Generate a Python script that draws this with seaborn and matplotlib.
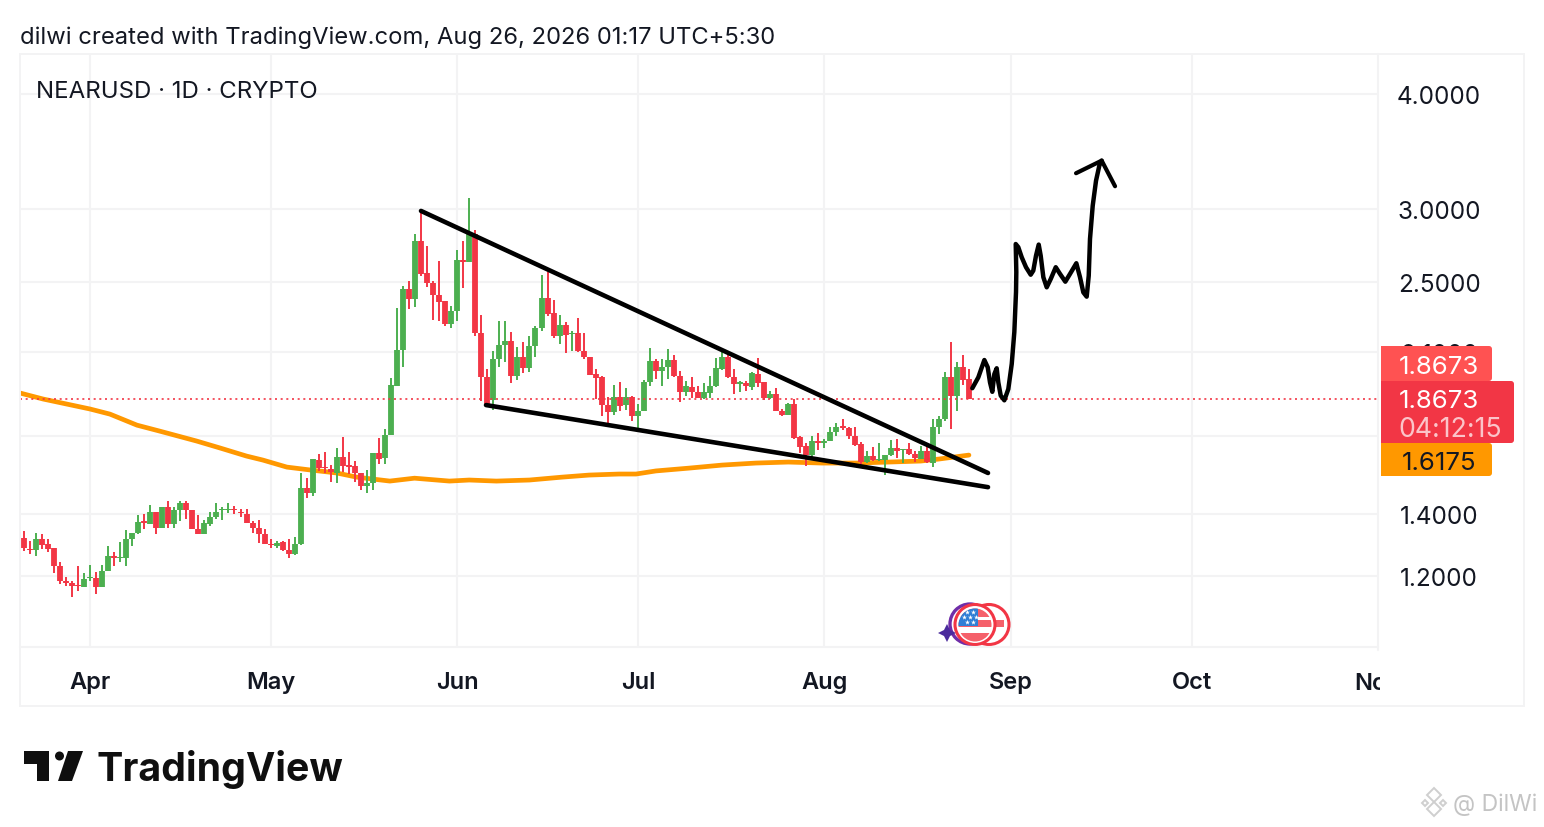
import numpy as np
import pandas as pd
import seaborn as sns
import matplotlib.pyplot as plt
from matplotlib.patches import Circle, FancyBboxPatch, Polygon, Rectangle
from matplotlib.transforms import Bbox

# --- data (days counted from Apr 1) ---
first_day = -12
open_prices = [
    1.340, 1.319, 1.284, 1.280, 1.316, 1.298, 1.285, 1.229, 1.184, 1.178,
    1.172, 1.167, 1.192, 1.194, 1.165, 1.214, 1.260, 1.254, 1.255, 1.314,
    1.336, 1.375, 1.365, 1.407, 1.351, 1.425, 1.365, 1.415, 1.438, 1.413,
    1.348, 1.331, 1.367, 1.390, 1.413, 1.415, 1.419, 1.406, 1.399, 1.370,
    1.352, 1.331, 1.300, 1.293, 1.305, 1.280, 1.266, 1.299, 1.495, 1.475,
    1.603, 1.576, 1.568, 1.550, 1.615, 1.581, 1.578, 1.550, 1.502, 1.514,
    1.632, 1.609, 1.707, 1.930, 2.110, 2.457, 2.396, 2.772, 2.557, 2.494,
    2.422, 2.382, 2.251, 2.323, 2.643, 2.626, 2.819, 2.200, 1.973, 1.863,
    2.062, 2.136, 2.159, 1.975, 2.071, 2.015, 2.132, 2.227, 2.400, 2.312,
    2.186, 2.245, 2.197, 2.200, 2.103, 2.075, 1.987, 1.970, 1.838, 1.805,
    1.874, 1.838, 1.874, 1.787, 1.813, 1.946, 2.050, 2.003, 2.023, 2.056,
    1.978, 1.897, 1.925, 1.899, 1.872, 1.894, 1.928, 2.011, 2.071, 1.970,
    1.935, 1.941, 1.921, 1.988, 1.946, 1.869, 1.890, 1.813, 1.795, 1.843,
    1.696, 1.660, 1.623, 1.679, 1.671, 1.679, 1.720, 1.743, 1.735, 1.703,
    1.668, 1.596, 1.617, 1.603, 1.603, 1.623, 1.650, 1.642, 1.645, 1.627,
    1.607, 1.640, 1.590, 1.738, 1.773, 1.970, 1.882, 2.023, 1.960,
]
high_prices = [
    1.350, 1.342, 1.309, 1.336, 1.333, 1.314, 1.287, 1.243, 1.196, 1.184,
    1.229, 1.207, 1.233, 1.211, 1.232, 1.293, 1.273, 1.306, 1.345, 1.336,
    1.396, 1.399, 1.431, 1.407, 1.425, 1.445, 1.425, 1.447, 1.447, 1.413,
    1.396, 1.380, 1.407, 1.438, 1.423, 1.438, 1.427, 1.419, 1.419, 1.376,
    1.379, 1.348, 1.314, 1.310, 1.309, 1.316, 1.323, 1.550, 1.532, 1.608,
    1.625, 1.636, 1.581, 1.653, 1.699, 1.636, 1.598, 1.550, 1.563, 1.632,
    1.691, 1.732, 1.965, 2.341, 2.473, 2.508, 2.818, 2.985, 2.738, 2.508,
    2.633, 2.382, 2.356, 2.708, 2.772, 3.085, 2.850, 2.302, 2.012, 2.106,
    2.269, 2.266, 2.208, 2.124, 2.154, 2.186, 2.238, 2.546, 2.561, 2.390,
    2.304, 2.260, 2.214, 2.283, 2.200, 2.075, 2.012, 1.978, 1.875, 1.933,
    1.946, 1.916, 1.882, 1.843, 1.958, 2.118, 2.062, 2.062, 2.112, 2.083,
    2.003, 1.954, 1.970, 1.926, 1.943, 1.978, 2.068, 2.115, 2.083, 2.011,
    1.954, 1.951, 1.995, 2.068, 1.946, 1.905, 1.916, 1.820, 1.848, 1.864,
    1.703, 1.671, 1.700, 1.713, 1.689, 1.739, 1.758, 1.773, 1.742, 1.739,
    1.675, 1.640, 1.654, 1.671, 1.624, 1.683, 1.689, 1.647, 1.672, 1.637,
    1.660, 1.672, 1.777, 1.787, 1.995, 2.150, 2.045, 2.083, 2.013,
]
low_prices = [
    1.300, 1.275, 1.266, 1.261, 1.282, 1.273, 1.209, 1.175, 1.170, 1.138,
    1.155, 1.167, 1.184, 1.147, 1.165, 1.214, 1.229, 1.243, 1.229, 1.293,
    1.333, 1.350, 1.365, 1.331, 1.351, 1.353, 1.351, 1.374, 1.382, 1.348,
    1.331, 1.331, 1.359, 1.382, 1.380, 1.403, 1.399, 1.391, 1.368, 1.336,
    1.301, 1.298, 1.285, 1.285, 1.276, 1.253, 1.264, 1.296, 1.458, 1.465,
    1.559, 1.550, 1.518, 1.512, 1.555, 1.546, 1.517, 1.487, 1.477, 1.487,
    1.586, 1.586, 1.706, 1.930, 2.020, 2.337, 2.347, 2.536, 2.467, 2.275,
    2.269, 2.237, 2.230, 2.269, 2.463, 2.626, 2.186, 1.856, 1.828, 1.817,
    2.020, 2.045, 1.943, 1.957, 1.990, 1.997, 2.071, 2.214, 2.298, 2.174,
    2.143, 2.095, 2.106, 2.097, 2.062, 1.983, 1.866, 1.787, 1.756, 1.793,
    1.812, 1.815, 1.768, 1.731, 1.813, 1.930, 1.962, 1.930, 1.962, 1.970,
    1.851, 1.879, 1.872, 1.870, 1.867, 1.872, 1.925, 2.006, 1.967, 1.890,
    1.901, 1.905, 1.908, 1.921, 1.860, 1.865, 1.809, 1.787, 1.793, 1.689,
    1.629, 1.577, 1.610, 1.644, 1.651, 1.679, 1.700, 1.727, 1.689, 1.660,
    1.587, 1.590, 1.600, 1.600, 1.545, 1.620, 1.610, 1.590, 1.623, 1.593,
    1.607, 1.590, 1.573, 1.710, 1.768, 1.731, 1.812, 1.932, 1.867,
]
close_prices = [
    1.320, 1.285, 1.280, 1.314, 1.296, 1.282, 1.229, 1.184, 1.177, 1.168,
    1.168, 1.191, 1.196, 1.167, 1.214, 1.260, 1.254, 1.258, 1.314, 1.336,
    1.373, 1.370, 1.407, 1.353, 1.425, 1.365, 1.415, 1.438, 1.413, 1.348,
    1.331, 1.368, 1.391, 1.407, 1.417, 1.417, 1.413, 1.403, 1.369, 1.352,
    1.331, 1.299, 1.295, 1.303, 1.280, 1.268, 1.300, 1.495, 1.475, 1.605,
    1.572, 1.572, 1.553, 1.615, 1.579, 1.575, 1.550, 1.502, 1.512, 1.632,
    1.605, 1.707, 1.933, 2.110, 2.457, 2.396, 2.772, 2.551, 2.492, 2.420,
    2.380, 2.251, 2.323, 2.643, 2.626, 2.819, 2.200, 1.970, 1.836, 2.062,
    2.136, 2.159, 1.975, 2.071, 2.015, 2.132, 2.227, 2.400, 2.308, 2.186,
    2.245, 2.190, 2.203, 2.103, 2.075, 1.983, 1.967, 1.838, 1.805, 1.874,
    1.836, 1.874, 1.787, 1.813, 1.948, 2.050, 2.003, 2.023, 2.056, 1.978,
    1.897, 1.926, 1.897, 1.872, 1.897, 1.930, 2.018, 2.071, 1.970, 1.935,
    1.946, 1.930, 1.990, 1.943, 1.869, 1.890, 1.813, 1.795, 1.843, 1.692,
    1.657, 1.623, 1.679, 1.672, 1.679, 1.720, 1.742, 1.735, 1.703, 1.664,
    1.596, 1.617, 1.604, 1.607, 1.624, 1.650, 1.640, 1.647, 1.627, 1.610,
    1.640, 1.593, 1.738, 1.773, 1.970, 1.882, 2.023, 1.957, 1.867,
]

ma_days = [-11.6, -7.8, 0, 3.3, 7.8, 11.6, 17.7, 21.6, 26, 28.7, 32.7, 36.5, 41,
           44.3, 49.8, 53.9, 59.7, 63, 67.5, 73, 78.4, 82.9, 87.9, 90.7, 94, 99.5,
           105, 110.6, 116, 121.6, 127.2, 132.7, 138, 141, 146]
ma_prices = [1.894, 1.866, 1.820, 1.797, 1.748, 1.722, 1.680, 1.651, 1.618, 1.602,
             1.574, 1.563, 1.551, 1.535, 1.520, 1.531, 1.520, 1.524, 1.520, 1.524,
             1.535, 1.543, 1.547, 1.547, 1.559, 1.570, 1.582, 1.590, 1.594, 1.590,
             1.590, 1.594, 1.598, 1.606, 1.622]

upper_days = [54.98, 149.17]
upper_prices = [2.986, 1.551]
lower_days = [65.78, 149.17]
lower_prices = [1.838, 1.497]

sketch_days = [146.56, 147.56, 148.56, 149.12, 149.50, 149.88, 150.22, 150.61, 150.88,
               151.28, 151.88, 152.54, 153.11, 153.54, 153.77, 153.82, 153.87, 153.77,
               154.20, 154.77, 155.48, 156.26, 156.69, 157.14, 157.59, 157.92, 158.36,
               158.92, 159.59, 160.42, 161.13, 162.01, 162.79, 163.84, 164.45, 165.00,
               165.56, 165.90, 166.11, 166.56, 167.11, 167.66, 168.05]
sketch_prices = [1.917, 1.970, 2.057, 2.020, 1.945, 1.900, 1.986, 2.015, 1.945,
                 1.882, 1.860, 1.913, 2.037, 2.206, 2.396, 2.438, 2.563, 2.749,
                 2.727, 2.659, 2.594, 2.546, 2.572, 2.670, 2.745, 2.670, 2.530,
                 2.467, 2.519, 2.594, 2.551, 2.502, 2.551, 2.620, 2.530, 2.436,
                 2.410, 2.540, 2.784, 3.025, 3.220, 3.344, 3.386]
arrow_days = [163.79, 168.05, 170.27]
arrow_prices = [3.281, 3.386, 3.176]

last_price = 1.8673
ma_last = 1.6175

month_days = [0, 30, 61, 91, 122, 153, 183]
month_labels = ['Apr', 'May', 'Jun', 'Jul', 'Aug', 'Sep', 'Oct']
price_ticks = [1.2, 1.4, 1.7, 2.1, 2.5, 3.0, 4.0]

GREEN = '#4caf50'
RED = '#f23645'
ORANGE = '#ff9800'
GRID = '#f3f3f4'
INK = '#131722'

sns.set_theme(style='white')
plt.rcParams['font.family'] = ['Inter', 'DejaVu Sans']

W, H = 1544, 828
fig = plt.figure(figsize=(W / 100, H / 100), dpi=100, facecolor='white')
ax = fig.add_axes([20 / W, 1 - 648 / H, (1378 - 20) / W, (648 - 55) / H])

# candles, long form: one short line per wick / body
days = np.arange(first_day, first_day + len(open_prices))
df = pd.DataFrame({'day': days, 'open': open_prices, 'high': high_prices,
                   'low': low_prices, 'close': close_prices})
df['up'] = df['close'] >= df['open']


def candle_lines(frame, a, b):
    return pd.concat([
        frame[['day', a]].rename(columns={a: 'price'}),
        frame[['day', b]].rename(columns={b: 'price'}),
    ])


# moving average goes under the candles
sns.lineplot(x=ma_days, y=ma_prices, sort=False, estimator=None, errorbar=None,
             color=ORANGE, lw=3.4, solid_capstyle='round', ax=ax, zorder=2)

for up, colour in [(True, GREEN), (False, RED)]:
    part = df[df['up'] == up]
    sns.lineplot(data=candle_lines(part, 'high', 'low'), x='day', y='price', units='day',
                 estimator=None, errorbar=None, sort=False, color=colour, lw=1.4,
                 solid_capstyle='butt', ax=ax, zorder=3)
    sns.lineplot(data=candle_lines(part, 'open', 'close'), x='day', y='price', units='day',
                 estimator=None, errorbar=None, sort=False, color=colour, lw=4.2,
                 solid_capstyle='butt', ax=ax, zorder=3)

ax.axhline(last_price, color=RED, lw=1.2, ls=(0, (1.2, 2.2)), zorder=4)

# hand drawn wedge and projection
for xs, ys, width in [(upper_days, upper_prices, 3.3), (lower_days, lower_prices, 3.3),
                      (sketch_days, sketch_prices, 3.2), (arrow_days, arrow_prices, 3.0)]:
    sns.lineplot(x=xs, y=ys, sort=False, estimator=None, errorbar=None, color='black',
                 lw=width, solid_capstyle='round', solid_joinstyle='round', ax=ax, zorder=5)

ax.set_yscale('log')
ax.set_xlim(-11.63, 213.95)
ax.set_ylim(1.004, 4.42)
ax.set_xlabel('')
ax.set_ylabel('')
ax.set_xticks(month_days)
ax.set_xticklabels(month_labels, fontsize=17, fontweight='semibold', color=INK)
ax.set_yticks(price_ticks)
ax.set_yticklabels([f'{p:.4f}' for p in price_ticks], fontsize=17.5, color=INK)
ax.minorticks_off()
ax.yaxis.tick_right()
ax.tick_params(axis='y', length=0, pad=44)
ax.tick_params(axis='x', length=0, pad=17.2)
for label in ax.get_yticklabels():
    label.set_ha('center')
ax.grid(True, color=GRID, lw=1.5)
ax.set_axisbelow(True)
for side in ax.spines:
    ax.spines[side].set_visible(False)

# Nov is cut by the price scale
nov = ax.text(213.8, -36 / 593, 'Nov', transform=ax.get_xaxis_transform(), fontsize=17,
              fontweight='semibold', color=INK, ha='center', va='center', clip_on=True)
nov.set_clip_box(Bbox([[0, 0], [1380, H]]))

# overlay in picture pixels for frame, tags, logo and badges
top = fig.add_axes([0, 0, 1, 1], zorder=10)
top.set_xlim(0, W)
top.set_ylim(H, 0)
top.axis('off')

top.add_patch(Rectangle((20, 55), 1504, 652, fill=False, ec=GRID, lw=1.4))
top.plot([20, 1378], [648, 648], color=GRID, lw=1.5)
top.plot([1378, 1378], [55, 651], color=GRID, lw=1.5)

top.text(20, 38, 'dilwi created with TradingView.com, Aug 26, 2026 01:17 UTC+5:30',
         fontsize=17.14, color=INK, va='center')
top.text(36, 92.5, 'NEARUSD · 1D · CRYPTO', fontsize=17.3, color=INK, va='center')


def tag(x0, y0, x1, y1, colour):
    top.add_patch(FancyBboxPatch((x0 + 3, y0 + 3), x1 - x0 - 6, y1 - y0 - 6,
                                 boxstyle='round,pad=3', fc=colour, ec='none'))
    top.add_patch(Rectangle((x0, y0), 8, y1 - y0, fc=colour, ec='none'))


tag(1381, 347, 1492, 382, '#ff5252')
tag(1381, 444, 1492, 477, ORANGE)
tag(1381, 382, 1514, 444, RED)
top.text(1439, 368, f'{last_price:.4f}', fontsize=18.6, color='white', ha='center', va='center')
top.text(1439, 402, f'{last_price:.4f}', fontsize=18.6, color='white', ha='center', va='center')
top.text(1450, 430, '04:12:15', fontsize=19.2, color='#fbc4c9', ha='center', va='center')
top.text(1439, 464, f'{ma_last:.4f}', fontsize=18.6, color=INK, ha='center', va='center')

# event badges
top.add_patch(Circle((970, 625), 20, fc='none', ec='#6f2da8', lw=2.4))
top.add_patch(Polygon([(938, 634), (944, 631), (947, 625), (950, 631), (956, 634), (950, 637),
                       (947, 643), (944, 637)], fc='#4a2a9c', ec='none'))
back_coin = Circle((989, 625.5), 20, fc='white', ec=RED, lw=2.2)
top.add_patch(back_coin)
for y0, y1 in [(621, 628)]:
    stripe = top.add_patch(Rectangle((994, y0), 10, y1 - y0, fc='#f5606a', ec='none'))
    stripe.set_clip_path(back_coin)
top.add_patch(Circle((975, 625.5), 20, fc='white', ec=RED, lw=2.2))
disc = Circle((975, 626), 16.5, fc='white', ec='none')
top.add_patch(disc)
for y0, y1 in [(609, 618), (621, 628), (634, 643)]:
    band = top.add_patch(Rectangle((958, y0), 36, y1 - y0, fc='#f5606a', ec='none'))
    band.set_clip_path(disc)
canton = top.add_patch(Rectangle((958, 609), 20, 18, fc='#2f7fd6', ec='none'))
canton.set_clip_path(disc)
top.scatter([967, 973, 964, 970, 976, 967, 973], [613, 613, 618, 618, 618, 623, 623], s=14,
            c='white', marker='*', linewidths=0)

# logo
LOGO = '#0f0f0f'
top.add_patch(Polygon([(24, 752), (49, 752), (49, 782), (37, 782), (37, 765), (24, 765)],
                      fc=LOGO, ec='none'))
top.add_patch(Circle((59.5, 757), 4.5, fc=LOGO, ec='none'))
top.add_patch(Polygon([(68, 752), (83, 752), (72, 782), (58, 782)], fc=LOGO, ec='none'))
top.text(97, 770, 'TradingView', fontsize=28.3, fontweight='bold', color=LOGO, va='center')

# watermark
for cx, cy, r in [(1434, 796, 7), (1425, 804, 3), (1443, 804, 3), (1434, 810, 7)]:
    top.add_patch(Polygon([(cx, cy - r), (cx + r, cy), (cx, cy + r), (cx - r, cy)],
                          fc='white', ec='#cfcfcf', lw=1.4))
top.text(1453, 805, '@ DilWi', fontsize=16.5, color='#c4c4c4', va='center')

fig.savefig('out.png', dpi=100, facecolor='white')
